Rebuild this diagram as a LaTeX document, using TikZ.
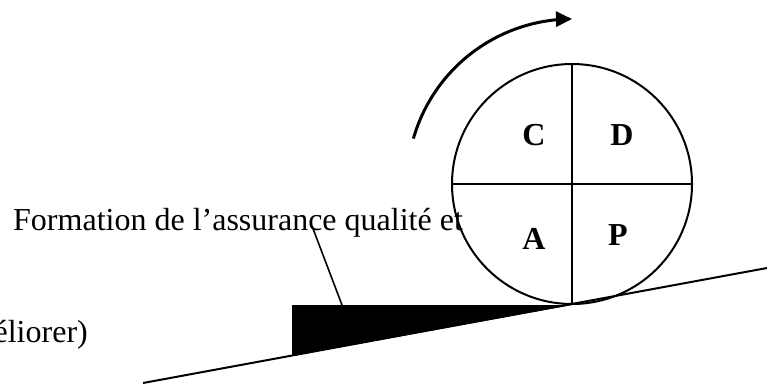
\documentclass[tikz,border=0pt]{standalone}
\usepackage{fontspec}
\setmainfont{Liberation Serif}
\usetikzlibrary{arrows.meta}
\begin{document}
\begin{tikzpicture}[x=1pt,y=-1pt,
  txt/.style={inner sep=0pt,font=\fontsize{32}{38}\selectfont},
  letter/.style={inner sep=0pt,font=\fontsize{32}{38}\selectfont\bfseries},
  thin line/.style={line width=2pt}]
\useasboundingbox (0,0) rectangle (767,385);
% wheel
\node[draw,circle,thin line,minimum size=240pt,inner sep=0pt] (wheel) at (572,184) {};
\draw[thin line] (wheel.north) -- (wheel.south);
\draw[thin line] (wheel.west) -- (wheel.east);
\node[letter] (C) at (534,135) {C};
\node[letter] (D) at (622,135) {D};
\node[letter] (A) at (534,239) {A};
\node[letter] (P) at (618,235) {P};
% slope
\coordinate (s0) at (143,383);
\coordinate (s1) at (767,268);
\draw[thin line] (s0) -- (s1);
% wedge
\coordinate (w1) at (292,305);
\coordinate (w2) at (292,356);
\fill (w1) -- (w2) -- (wheel.south) -- cycle;
% rotation arrow
\draw[line width=3pt,-{Triangle[length=16pt,width=15pt]}]
  plot[domain=164:90,samples=60,smooth] ({572+165*cos(\x)},{184-165*sin(\x)});
% labels
\node[txt,anchor=base west] (lab) at (13,230) {Formation de l’assurance qualité et};
\coordinate (l0) at (312,226);
\coordinate (l1) at (342,305);
\draw[line width=1.6pt] (l0) -- (l1);
\node[txt,anchor=base east] (lab2) at (88,342) {éliorer)};
\end{tikzpicture}
\end{document}
